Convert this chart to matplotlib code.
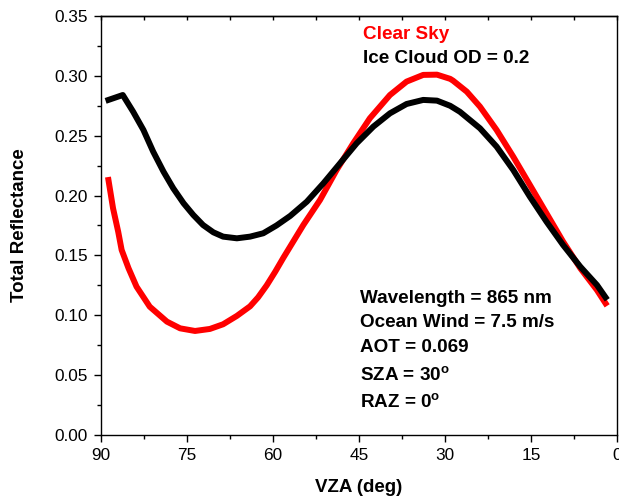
import matplotlib
matplotlib.use("Agg")
import matplotlib.pyplot as plt
from matplotlib.ticker import MultipleLocator

plt.rcParams['font.family'] = ['Liberation Sans', 'DejaVu Sans']

# Clear sky curve (VZA deg, reflectance)
vza_clear = [88.7, 87.9, 87.0, 86.4, 85.2, 83.8, 81.5, 78.5, 76.2, 73.6, 71.0, 68.7,
             66.3, 64.0, 62.6, 61.1, 59.6, 58.2, 54.7, 51.8, 48.9, 46.0, 43.1, 39.6,
             36.7, 33.8, 31.4, 29.1, 28.6, 26.2, 23.9, 21.0, 18.1, 15.2, 12.3, 9.4,
             6.4, 3.5, 2.0]
refl_clear = [0.2130, 0.1894, 0.1698, 0.1546, 0.1393, 0.1239, 0.1072, 0.0947, 0.0891,
              0.0869, 0.0886, 0.0925, 0.0995, 0.1075, 0.1150, 0.1250, 0.1365, 0.1480,
              0.1755, 0.1963, 0.2214, 0.2437, 0.2646, 0.2840, 0.2952, 0.3008, 0.3010,
              0.2975, 0.2960, 0.2868, 0.2743, 0.2548, 0.2325, 0.2089, 0.1852, 0.1615,
              0.1393, 0.1211, 0.1100]

# Ice cloud OD = 0.2 curve
vza_ice = [88.7, 86.2, 84.4, 82.6, 80.9, 79.1, 77.4, 75.6, 73.9, 72.2, 70.4, 68.7,
           66.3, 64.0, 61.7, 59.4, 57.0, 54.1, 51.2, 48.3, 45.4, 42.5, 39.6, 36.7,
           33.8, 31.4, 29.1, 27.4, 23.9, 21.0, 18.1, 15.2, 12.3, 9.4, 6.4, 3.5, 2.0]
refl_ice = [0.2799, 0.2840, 0.2701, 0.2548, 0.2367, 0.2200, 0.2061, 0.1936, 0.1838,
            0.1754, 0.1693, 0.1657, 0.1643, 0.1657, 0.1685, 0.1750, 0.1830, 0.1949,
            0.2103, 0.2270, 0.2437, 0.2576, 0.2687, 0.2765, 0.2799, 0.2793, 0.2750,
            0.2700, 0.2562, 0.2409, 0.2214, 0.1991, 0.1782, 0.1587, 0.1406, 0.1253,
            0.1150]

x_ticks = [90, 75, 60, 45, 30, 15, 0]
y_ticks = [0.00, 0.05, 0.10, 0.15, 0.20, 0.25, 0.30, 0.35]

legend_labels = ["Clear Sky", "Ice Cloud OD = 0.2"]
info_lines = ["Wavelength = 865 nm", "Ocean Wind = 7.5 m/s", "AOT = 0.069",
              r"SZA = 30$^{\mathregular{o}}$", r"RAZ = 0$^{\mathregular{o}}$"]

fig = plt.figure(figsize=(6.19, 4.99), dpi=100)
ax = fig.add_axes([101/619, 1 - 435/499, (617-101)/619, (435-16)/499])

ax.plot(vza_clear, refl_clear, color='#ff0000', lw=4.3, solid_joinstyle='round', zorder=2)
ax.plot(vza_ice, refl_ice, color='black', lw=4.3, solid_joinstyle='round', zorder=3)

ax.set_xlim(90, 0)
ax.set_ylim(0, 0.35)
ax.set_xticks(x_ticks)
ax.set_xticklabels([str(t) for t in x_ticks])
ax.set_yticks(y_ticks)
ax.set_yticklabels([f"{t:.2f}" for t in y_ticks])
ax.xaxis.set_minor_locator(MultipleLocator(7.5))
ax.yaxis.set_minor_locator(MultipleLocator(0.025))
ax.tick_params(axis='both', which='major', direction='out', length=5, width=1.0,
               labelsize=12.4, pad=4.5)
ax.tick_params(axis='both', which='minor', direction='out', length=3, width=1.0)
for s in ax.spines.values():
    s.set_linewidth(1.0)

sec = ax.secondary_xaxis('top')
sec.set_xticks(x_ticks)
sec.xaxis.set_minor_locator(MultipleLocator(7.5))
sec.tick_params(which='both', direction='in', labeltop=False, length=3, width=1.0)
sec.spines['top'].set_linewidth(1.0)

fig.text(359/619, 1 - 487/499, "VZA (deg)", fontsize=13.5, fontweight='bold',
         ha='center', va='center')
fig.text(19.5/619, 1 - 225.5/499, "Total Reflectance", fontsize=13.5, fontweight='bold',
         ha='center', va='center', rotation=90)

ax.text(44.3, 0.3306, legend_labels[0], color='#ff0000', fontsize=13.6, fontweight='bold',
        va='baseline', ha='left')
ax.text(44.3, 0.3105, legend_labels[1], color='black', fontsize=13.6, fontweight='bold',
        va='baseline', ha='left')

info_y = [0.1100, 0.0900, 0.0696, 0.0454, 0.0223]
for t, yv in zip(info_lines, info_y):
    ax.text(44.8, yv, t, color='black', fontsize=13.6, fontweight='bold',
            va='baseline', ha='left')

fig.savefig("out.png", dpi=100)
